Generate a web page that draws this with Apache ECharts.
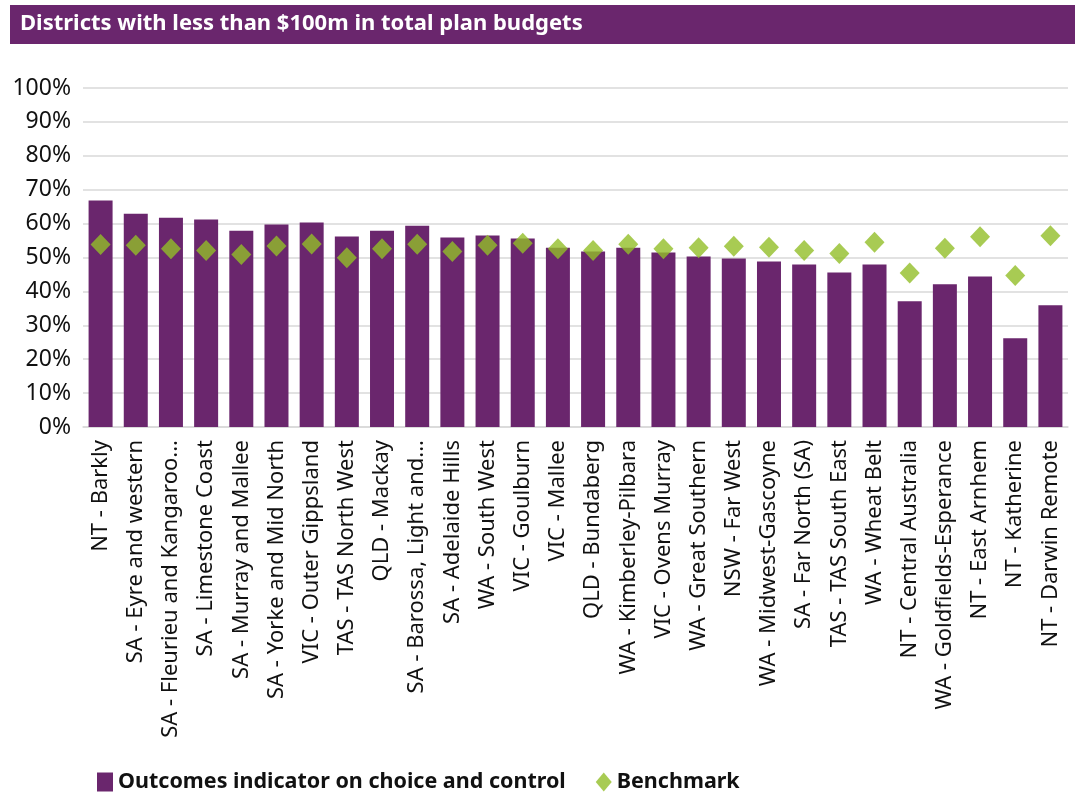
<!DOCTYPE html>
<html>
<head>
<meta charset="utf-8">
<script src="https://cdn.jsdelivr.net/npm/echarts@6/dist/echarts.min.js"></script>
<style>
  html, body { margin: 0; padding: 0; background: #fff; }
  #chart { width: 1079px; height: 799px; }
</style>
</head>
<body>
<div id="chart"></div>
<script>
// District names (long names are shortened with an ellipsis as on the axis)
const districts = [
  'NT - Barkly', 'SA - Eyre and western', 'SA - Fleurieu and Kangaroo...',
  'SA - Limestone Coast', 'SA - Murray and Mallee', 'SA - Yorke and Mid North',
  'VIC - Outer Gippsland', 'TAS - TAS North West', 'QLD - Mackay',
  'SA - Barossa, Light and...', 'SA - Adelaide Hills', 'WA - South West',
  'VIC - Goulburn', 'VIC - Mallee', 'QLD - Bundaberg', 'WA - Kimberley-Pilbara',
  'VIC - Ovens Murray', 'WA - Great Southern', 'NSW - Far West',
  'WA - Midwest-Gascoyne', 'SA - Far North (SA)', 'TAS - TAS South East',
  'WA - Wheat Belt', 'NT - Central Australia', 'WA - Goldfields-Esperance',
  'NT - East Arnhem', 'NT - Katherine', 'NT - Darwin Remote'
];

// Outcomes indicator on choice and control (% of participants)
const outcomes = [
  66.8, 62.9, 61.7, 61.2, 57.9, 59.7, 60.3, 56.2, 57.9, 59.4,
  55.9, 56.5, 55.6, 52.9, 51.8, 52.9, 51.5, 50.3, 49.7, 48.8,
  47.9, 45.6, 47.9, 37.1, 42.1, 44.4, 26.2, 35.9
];

// Benchmark (%)
const benchmark = [
  53.8, 53.6, 52.6, 52.1, 50.9, 53.4, 54.0, 49.9, 52.6, 53.9,
  51.8, 53.6, 54.2, 52.6, 52.1, 53.9, 52.6, 52.9, 53.3, 53.0,
  52.1, 51.2, 54.5, 45.4, 52.7, 56.1, 44.7, 56.4
];

const titleText = 'Districts with less than $100m in total plan budgets';

const PURPLE = '#6A266D';
const GREEN = '#92BE28';
const FONT = '"Noto Sans", "Open Sans", sans-serif';

const chart = echarts.init(document.getElementById('chart'), null, { renderer: 'canvas' });

chart.setOption({
  backgroundColor: '#ffffff',
  animation: false,
  textStyle: { fontFamily: FONT },
  graphic: [
    {
      type: 'rect',
      left: 10, top: 5,
      shape: { width: 1065, height: 39 },
      style: { fill: PURPLE }
    },
    {
      type: 'text',
      left: 20, top: 13,
      style: {
        text: titleText,
        fill: '#ffffff',
        font: 'bold 22px ' + FONT
      }
    }
  ],
  legend: {
    left: 92,
    top: 766,
    itemGap: 30,
    itemWidth: 16,
    itemHeight: 19,
    textStyle: { fontFamily: FONT, fontSize: 21.5, fontWeight: 'bold', color: '#111' },
    data: [
      { name: 'Outcomes indicator on choice and control', icon: 'rect' },
      { name: 'Benchmark', icon: 'diamond' }
    ]
  },
  grid: { left: 83, right: 11, top: 88, bottom: 372, containLabel: false },
  xAxis: {
    type: 'category',
    data: districts,
    axisLine: { show: true, lineStyle: { color: '#d9d9d9', width: 1.5 } },
    axisTick: { show: false },
    axisLabel: {
      rotate: 90,
      interval: 0,
      margin: 13,
      fontSize: 22,
      color: '#111',
      fontFamily: FONT
    }
  },
  yAxis: {
    type: 'value',
    min: 0, max: 100, interval: 10,
    axisLine: { show: false },
    axisTick: { show: false },
    splitLine: { lineStyle: { color: '#d9d9d9', width: 1.5 } },
    axisLabel: {
      formatter: '{value}%',
      fontSize: 23,
      color: '#111',
      margin: 12,
      fontFamily: FONT
    }
  },
  series: [
    {
      name: 'Outcomes indicator on choice and control',
      type: 'bar',
      data: outcomes,
      barWidth: 24,
      itemStyle: { color: PURPLE }
    },
    {
      name: 'Benchmark',
      type: 'scatter',
      data: benchmark,
      symbol: 'diamond',
      symbolSize: [20, 21],
      itemStyle: { color: GREEN },
      z: 5
    }
  ]
});
</script>
</body>
</html>
